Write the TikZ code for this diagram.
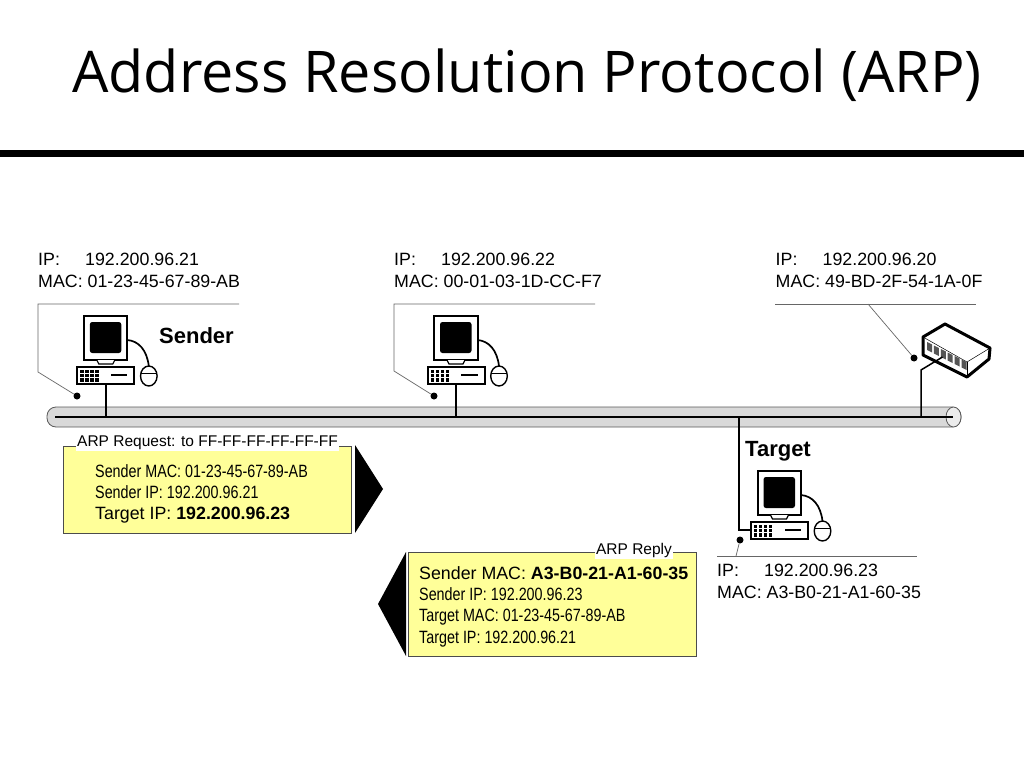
\documentclass[tikz,border=0pt]{standalone}
\usepackage{fontspec}
\setmainfont{Liberation Sans}
\newfontfamily\titlefont{Open Sans}
\newfontfamily\narrowfont[FakeStretch=0.805]{Liberation Sans}

\definecolor{busgray}{HTML}{D9D9D9}
\definecolor{notegray}{HTML}{666666}
\definecolor{msgyellow}{HTML}{FFFF99}
\definecolor{portgray}{HTML}{555555}

\tikzstyle{address} = [anchor=north west,inner sep=0,align=left,font=\fontsize{17.8}{22}\selectfont]
\tikzstyle{role} = [anchor=west,inner sep=0,font=\fontsize{22}{24}\selectfont\bfseries]
\tikzstyle{dot} = [circle,fill=black,inner sep=0,minimum size=7pt]
\tikzstyle{note} = [draw=notegray,line width=0.7pt]
\tikzstyle{wire} = [draw=black,line width=1.5pt]
\tikzstyle{msgbox} = [draw=black!70,line width=0.8pt,fill=msgyellow,inner sep=0]
\tikzstyle{msgtext} = [anchor=north west,inner sep=0,align=left,font=\fontsize{17.8}{21.3}\selectfont]
\tikzstyle{msgtitle} = [fill=white,inner sep=1.5pt,font=\fontsize{15.5}{18}\selectfont]

\newcommand{\addrlines}[2]{\makebox[47pt][l]{IP:}#1\\MAC: #2}

\tikzset{computer/.pic={
	% monitor
	\draw[line width=2pt,fill=white] (0,0) rectangle (43.5,44);
	\fill[rounded corners=2.5pt] (6,6) rectangle (37.5,37);
	\draw[line width=1.2pt,fill=white] (13,44) -- (15,48) -- (29,48) -- (31,44);
	% case
	\draw[line width=2pt,fill=white] (-6.5,51) rectangle (50.5,68);
	\foreach \kx in {-3.5,1.5,6.5,11.5}
		\foreach \ky in {54,58.2,62.4}
			\fill (\kx,\ky) rectangle ++(3.4,3.2);
	\fill (27,57.5) rectangle (43.5,60);
	% mouse
	\draw[line width=1.4pt,fill=white] (65,60) ellipse (8.3 and 10);
	\draw[line width=1pt] (57,57) -- (73,57);
	\draw[line width=1.7pt] (43.5,24) .. controls (55,25) and (63,34) .. (65,50);
	\coordinate (-port) at (22,68);
	\coordinate (-side) at (-6.5,59);
}}

\begin{document}
\begin{tikzpicture}[x=1pt,y=-1pt]
	\useasboundingbox (0,0) rectangle (1024,768);

	% heading
	\node[inner sep=0,font=\fontsize{57.5}{62}\selectfont\titlefont] (heading) at (527,75) {Address Resolution Protocol (ARP)};
	\fill (0,150) rectangle (1024,157);

	% bus
	\draw[draw=black!65,line width=0.8pt,fill=busgray,rounded corners=9pt] (47,407) rectangle (961,427);
	\draw[draw=black!65,line width=0.8pt,fill=busgray!50] (953.5,417) ellipse (7.5 and 10);
	\coordinate (busl) at (55,417);
	\coordinate (busr) at (953,417);
	\draw[line width=2.4pt] (busl) -- (busr);
	\coordinate (tap1) at (105.8,417);
	\coordinate (tap2) at (456,417);
	\coordinate (tap3) at (739,417);
	\coordinate (tap4) at (921,417);

	% hosts
	\pic (sender) at (83.8,316) {computer};
	\pic (other) at (434,316) {computer};
	\pic (target) at (757.5,471) {computer};
	\draw[wire] (tap1) -- (sender-port);
	\draw[wire] (tap2) -- (other-port);
	\draw[wire] (tap3) |- (target-side);

	% router
	\draw[line width=3pt,fill=white,line join=round] (945,324) -- (990,348) -- (989,359) -- (967,377) -- (923,355) -- (923,337) -- cycle;
	\draw[line width=0.5pt] (923,337) -- (967,362) -- (990,348);
	\draw[line width=0.5pt] (967,362) -- (967,377);
	\foreach \p in {0,1,...,5}
		\fill[portgray] (927+6.9*\p,342+3.5*\p) -- ++(5,2.5) -- ++(0,8) -- ++(-5,-2.5) -- cycle;
	\coordinate (hubport) at (942.5,357);
	\coordinate (hubbend) at (921,370);
	\draw[wire] (tap4) -- (hubbend) -- (hubport);

	% addresses
	\node[address] (addr1) at (38,252.5) {\addrlines{192.200.96.21}{01-23-45-67-89-AB}};
	\node[address] (addr2) at (394,252.5) {\addrlines{192.200.96.22}{00-01-03-1D-CC-F7}};
	\node[address] (addr3) at (775.5,252.5) {\addrlines{192.200.96.20}{49-BD-2F-54-1A-0F}};
	\node[address] (addr4) at (717,564) {\addrlines{192.200.96.23}{A3-B0-21-A1-60-35}};
	\node[role] (sendername) at (159,336) {Sender};
	\node[role] (targetname) at (745,451) {Target};

	% notes
	\node[dot] (d1) at (77,396) {};
	\node[dot] (d2) at (434,396) {};
	\node[dot] (d3) at (914,358) {};
	\node[dot] (d4) at (740,540) {};
	\coordinate (n1a) at (239,304);
	\coordinate (n1b) at (38,304);
	\coordinate (n1c) at (38,372);
	\coordinate (n2a) at (595,304);
	\coordinate (n2b) at (394,304);
	\coordinate (n2c) at (394,371);
	\coordinate (n3a) at (775,304);
	\coordinate (n3b) at (976,304);
	\coordinate (n3c) at (868,304);
	\coordinate (n4a) at (717,556);
	\coordinate (n4b) at (917,556);
	\coordinate (n4c) at (736,556);
	\draw[note] (n1a) -- (n1b) -- (n1c) -- (d1);
	\draw[note] (n2a) -- (n2b) -- (n2c) -- (d2);
	\draw[note] (n3a) -- (n3b);
	\draw[note] (n3c) -- (d3);
	\draw[note] (n4a) -- (n4b);
	\draw[note] (n4c) -- (d4);

	% request
	\node[msgbox,minimum width=288pt,minimum height=87pt] (reqbox) at (207.5,489.5) {};
	\fill (355,445) -- (383,489) -- (355,533) -- cycle;
	\node[msgtitle] (reqtitle) at (207.5,443) {ARP Request: to FF-FF-FF-FF-FF-FF};
	\node[msgtext] (reqtext) at (95,464) {{\narrowfont Sender MAC: 01-23-45-67-89-AB}\\{\narrowfont Sender IP: 192.200.96.21}\\Target IP: \textbf{192.200.96.23}};

	% reply
	\node[msgbox,minimum width=288pt,minimum height=104pt] (repbox) at (552.5,604) {};
	\fill (406,552) -- (378,604) -- (406,656) -- cycle;
	\node[msgtitle] (reptitle) at (634,550.5) {ARP Reply};
	\node[msgtext] (reptext) at (419,566) {Sender MAC: \textbf{A3-B0-21-A1-60-35}\\{\narrowfont Sender IP: 192.200.96.23}\\{\narrowfont Target MAC: 01-23-45-67-89-AB}\\{\narrowfont Target IP: 192.200.96.21}};
\end{tikzpicture}
\end{document}
